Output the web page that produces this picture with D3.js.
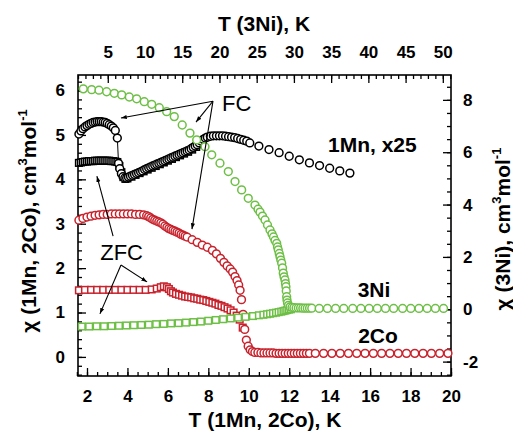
<!DOCTYPE html>
<html>
<head>
<meta charset="utf-8">
<script src="https://cdn.jsdelivr.net/npm/d3@7"></script>
<style>
  body { margin: 0; background: #fff; }
  svg { display: block; font-family: "Liberation Sans", Arial, sans-serif; }
</style>
</head>
<body>
<svg id="chart" width="513" height="433"></svg>
<script>
// ---- data ----
// 1Mn (x25), bottom T axis, left chi axis
var mnFcT = [1.60,1.70,1.80,1.90,2.00,2.10,2.20,2.30,2.40,2.50,2.60,2.70,2.80,2.90,3.00,3.10,3.20,3.30,3.40,3.50,
  3.56,3.62,3.70,3.78,3.87,3.96,
  4.05,4.15,4.25,4.35,4.45,4.55,4.65,4.75,4.85,4.95,5.05,5.15,5.25,5.35,5.45,5.55,5.65,5.75,5.85,5.95,
  6.05,6.15,6.25,6.35,6.45,6.55,6.65,6.75,6.85,6.95,7.05,7.15,7.25,7.35,7.45,7.55,7.65,7.75,7.85,7.95,
  8.10,8.25,8.40,8.55,8.70,8.85,9.00,9.15,9.30,9.45,9.60,9.75,9.90,10.05,
  10.5,11.0,11.5,12.0,12.5,13.0,13.5,14.0,14.5,15.0];
var mnFcChi = [5.02,5.09,5.14,5.18,5.21,5.24,5.26,5.28,5.29,5.30,5.30,5.30,5.29,5.28,5.26,5.23,5.20,5.16,5.10,4.93,
  4.36,4.24,4.13,4.06,4.03,4.03,
  4.05,4.07,4.09,4.11,4.13,4.15,4.17,4.19,4.22,4.24,4.26,4.28,4.30,4.32,4.34,4.36,4.38,4.40,4.42,4.44,
  4.46,4.48,4.50,4.52,4.54,4.56,4.58,4.60,4.62,4.64,4.66,4.69,4.72,4.75,4.78,4.82,4.86,4.90,4.93,4.95,
  4.97,4.98,4.98,4.98,4.98,4.97,4.96,4.95,4.94,4.92,4.90,4.88,4.86,4.82,
  4.75,4.67,4.60,4.52,4.44,4.37,4.31,4.25,4.19,4.14];
var mnZfcT = [1.6,1.7,1.8,1.9,2.0,2.1,2.2,2.3,2.4,2.5,2.6,2.7,2.8,2.9,3.0,3.1,3.2,3.3,3.4,3.5,
  3.6,3.7,3.8,3.9,
  4.0,4.2,4.4,4.6,4.8,5.0,5.2,5.4,5.6,5.8,6.0,6.2,6.4,6.6,6.8,7.0,7.2,7.4,7.6];
var mnZfcChi = [4.37,4.38,4.39,4.40,4.40,4.41,4.41,4.41,4.42,4.42,4.42,4.42,4.42,4.42,4.42,4.42,4.41,4.41,4.40,4.39,
  4.30,4.16,4.05,4.01,
  4.02,4.06,4.10,4.14,4.18,4.22,4.26,4.30,4.34,4.38,4.42,4.46,4.50,4.54,4.58,4.62,4.67,4.73,4.79];

// 2Co, bottom T axis, left chi axis
var coFcT = [1.6,1.8,2.0,2.2,2.4,2.6,2.8,3.0,3.2,3.4,3.6,3.8,4.0,4.2,4.4,4.6,4.8,4.95,
  5.05,5.15,5.25,5.35,5.45,5.55,5.65,5.75,5.85,5.95,6.05,6.15,6.25,6.35,6.45,6.55,6.65,6.75,6.85,6.95,
  7.2,7.45,7.7,7.95,8.2,8.4,8.6,8.77,8.93,9.08,9.2,9.32,9.42,9.5,9.57,9.64,
  9.72,9.8,9.88,9.97,10.07,10.18,
  10.3,10.45,10.6,10.75,10.9,11.05,11.2,11.35,11.5,11.65,11.8,11.95,12.1,12.25,12.4,12.55,12.7,12.85,13.0,
  13.29,13.7,14.11,14.52,14.93,15.34,15.75,16.16,16.57,16.98,17.39,17.8,18.21,18.62,19.03,19.44,19.85];
var coFcChi = [3.08,3.12,3.15,3.17,3.19,3.20,3.21,3.21,3.22,3.22,3.22,3.22,3.22,3.22,3.21,3.21,3.20,3.18,
  3.16,3.13,3.10,3.08,3.06,3.04,3.02,2.99,2.95,2.92,2.89,2.87,2.85,2.83,2.81,2.79,2.76,2.74,2.72,2.70,
  2.64,2.58,2.52,2.47,2.40,2.32,2.22,2.13,2.05,1.98,1.91,1.81,1.72,1.62,1.50,1.29,
  0.96,0.62,0.38,0.24,0.16,0.12,
  0.10,0.10,0.09,0.09,0.09,0.09,0.09,0.08,0.08,0.08,0.08,0.08,0.08,0.08,0.08,0.08,0.08,0.08,0.08,
  0.08,0.08,0.08,0.08,0.08,0.08,0.08,0.08,0.08,0.08,0.08,0.08,0.08,0.08,0.08,0.08,0.08];
var coZfcT = [1.6,1.9,2.2,2.5,2.8,3.1,3.4,3.7,4.0,4.3,4.6,4.9,5.2,
  5.45,5.65,5.8,5.95,6.05,6.15,6.25,
  6.4,6.55,6.7,6.85,7.0,7.15,7.3,7.45,7.6,7.75,7.9,8.05,8.2,8.35,8.5,8.65,8.8,8.95,9.1,9.25,9.4,9.55,9.7];
var coZfcChi = [1.50,1.51,1.51,1.51,1.51,1.51,1.51,1.51,1.51,1.51,1.51,1.51,1.52,
  1.54,1.57,1.59,1.57,1.53,1.48,1.45,
  1.42,1.40,1.38,1.36,1.35,1.34,1.32,1.31,1.29,1.28,1.26,1.24,1.22,1.20,1.17,1.15,1.12,1.09,1.05,1.00,0.93,0.84,0.66];

// 3Ni, top T axis, right chi axis
var niFcT = [1.71,2.84,3.82,4.85,5.88,6.87,7.89,8.88,9.9,10.9,
  11.92,12.91,13.93,15.0,16.04,16.94,18.06,18.96,20.07,21.19,
  22.09,22.98,23.87,24.77,25.18,25.45,25.78,26.12,26.45,26.79,
  27.06,27.26,27.46,27.69,27.8,27.9,28.03,28.13,28.24,28.36,
  28.47,28.57,28.67,28.8,28.87,28.93,28.97,29.03,29.07,29.14,
  29.27,29.48,29.74,30.0,30.3,30.6,30.9,31.2,31.5,31.8,
  32.1,32.4,33.4,34.5,35.6,36.7,37.9,39.0,40.1,41.2,
  42.3,43.4,44.6,45.7,46.8,47.9,49.0,50.1];
var niFcChi = [8.42,8.39,8.37,8.31,8.25,8.19,8.11,8.04,7.93,7.83,
  7.70,7.55,7.36,7.04,6.73,6.47,6.21,5.90,5.58,5.26,
  4.88,4.56,4.24,3.98,3.82,3.71,3.56,3.41,3.22,3.03,
  2.88,2.76,2.63,2.52,2.38,2.27,2.13,2.01,1.88,1.76,
  1.58,1.38,1.24,1.12,0.98,0.86,0.70,0.48,0.35,0.24,
  0.15,0.09,0.07,0.06,0.05,0.05,0.05,0.04,0.04,0.04,
  0.04,0.04,0.03,0.03,0.03,0.03,0.03,0.03,0.03,0.03,
  0.03,0.03,0.03,0.03,0.03,0.03,0.03,0.03];
var niZfcT = [1.5,2.5,3.5,4.5,5.5,6.5,7.5,8.5,9.5,10.5,11.5,12.5,13.5,14.5,15.5,16.5,17.5,18.5,19.5,20.5,
  21.5,22.5,23.5,24.5,25.3,25.9,26.4,26.8,27.2,27.6,27.95,28.3,28.6,28.85,29.1,29.35,29.6];
var niZfcChi = [-0.66,-0.66,-0.65,-0.65,-0.64,-0.63,-0.62,-0.61,-0.60,-0.59,-0.57,-0.56,-0.54,-0.53,-0.51,-0.49,-0.47,-0.44,-0.41,-0.38,
  -0.35,-0.32,-0.29,-0.26,-0.23,-0.21,-0.19,-0.17,-0.15,-0.13,-0.11,-0.09,-0.07,-0.05,-0.03,-0.01,0.00];

// tick labels
var bottomTicks = [2,4,6,8,10,12,14,16,18,20];
var topTicks = [5,10,15,20,25,30,35,40,45,50];
var leftTicks = [0,1,2,3,4,5,6];
var rightTicks = [-2,0,2,4,6,8];

// ---- layout ----
var svg = d3.select('#chart');
var pL = 78, pR = 451, pT = 75, pB = 376;
var green = '#6dbf45', red = '#c8222c';

var xB = d3.scaleLinear().domain([1.555, 20]).range([pL, pR]);
var xT = d3.scaleLinear().domain([1, 51.1]).range([pL, pR]);
var yL = d3.scaleLinear().domain([-0.43, 6.35]).range([pB, pT]);
var yR = d3.scaleLinear().domain([-2.55, 8.95]).range([pB, pT]);

function addAxis(gen, tr, fs) {
  var g = svg.append('g').attr('transform', tr).call(gen);
  g.attr('font-family', null).attr('font-size', null);
  g.select('.domain').remove();
  g.selectAll('.tick line').attr('stroke', '#000').attr('stroke-width', 1.3);
  g.selectAll('.tick text').attr('fill', '#000')
    .style('font-size', fs + 'px').style('font-weight', 'bold');
  return g;
}
var fmt = function(d) { return String(d); };

// minor ticks
addAxis(d3.axisBottom(xB).tickValues(d3.range(1.5, 20.01, 0.5)).tickSize(-4).tickFormat(''), 'translate(0,' + pB + ')', 17);
addAxis(d3.axisTop(xT).tickValues(d3.range(1, 51.01, 1)).tickSize(-4).tickFormat(''), 'translate(0,' + pT + ')', 17);
addAxis(d3.axisLeft(yL).tickValues(d3.range(-0.4, 6.31, 0.2)).tickSize(-4).tickFormat(''), 'translate(' + pL + ',0)', 17);
addAxis(d3.axisRight(yR).tickValues(d3.range(-2.5, 8.91, 0.5)).tickSize(-4).tickFormat(''), 'translate(' + pR + ',0)', 17);
// major ticks
addAxis(d3.axisBottom(xB).tickValues(bottomTicks).tickSize(-8).tickPadding(14).tickFormat(fmt), 'translate(0,' + pB + ')', 17);
addAxis(d3.axisTop(xT).tickValues(topTicks).tickSize(-8).tickPadding(17).tickFormat(fmt), 'translate(0,' + pT + ')', 17);
addAxis(d3.axisLeft(yL).tickValues(leftTicks).tickSize(-8).tickPadding(13).tickFormat(fmt), 'translate(' + pL + ',0)', 17);
addAxis(d3.axisRight(yR).tickValues(rightTicks).tickSize(-8).tickPadding(12).tickFormat(fmt), 'translate(' + pR + ',0)', 17);

svg.append('rect').attr('x', pL).attr('y', pT)
  .attr('width', pR - pL).attr('height', pB - pT)
  .attr('fill', 'none').attr('stroke', '#000').attr('stroke-width', 1.6);

// ---- markers ----
var R = 3.9, S = 6.6;
function circles(T, C, xs, ys, col) {
  svg.append('g').selectAll('circle').data(T).enter().append('circle')
    .attr('cx', function(d) { return xs(d); })
    .attr('cy', function(d, i) { return ys(C[i]); })
    .attr('r', R).attr('fill', '#fff').attr('stroke', col).attr('stroke-width', 1.5);
}
function squares(T, C, xs, ys, col) {
  svg.append('g').selectAll('rect').data(T).enter().append('rect')
    .attr('x', function(d) { return xs(d) - S / 2; })
    .attr('y', function(d, i) { return ys(C[i]) - S / 2; })
    .attr('width', S).attr('height', S)
    .attr('fill', '#fff').attr('stroke', col).attr('stroke-width', 1.5);
}

// thin line joining the 1Mn FC points at the jump
svg.append('path')
  .datum(d3.range(mnFcT.length).filter(function(i) { return mnFcT[i] < 4; }))
  .attr('d', d3.line().x(function(i) { return xB(mnFcT[i]); }).y(function(i) { return yL(mnFcChi[i]); }))
  .attr('fill', 'none').attr('stroke', '#000').attr('stroke-width', 1);

squares(mnZfcT, mnZfcChi, xB, yL, '#000');
circles(mnFcT, mnFcChi, xB, yL, '#000');
squares(coZfcT, coZfcChi, xB, yL, red);
circles(coFcT, coFcChi, xB, yL, red);
squares(niZfcT, niZfcChi, xT, yR, green);
circles(niFcT, niFcChi, xT, yR, green);

// ---- annotations (bottom-T / left-chi units) ----
svg.append('defs').append('marker').attr('id', 'arr')
  .attr('viewBox', '0 -3 7 6').attr('refX', 7).attr('refY', 0)
  .attr('markerWidth', 6).attr('markerHeight', 5).attr('markerUnits', 'userSpaceOnUse')
  .attr('orient', 'auto')
  .append('path').attr('d', 'M0,-2.5L7,0L0,2.5Z').attr('fill', '#000');

var arrows = [
  [[8.23, 5.76], [3.68, 5.38]],
  [[8.23, 5.76], [7.39, 5.29]],
  [[8.23, 5.76], [7.19, 2.88]],
  [[3.29, 2.72], [2.49, 4.07]],
  [[3.68, 2.07], [4.97, 1.69]],
  [[3.68, 2.07], [2.64, 0.97]]
];
svg.append('g').selectAll('line').data(arrows).enter().append('line')
  .attr('x1', function(d) { return xB(d[0][0]); }).attr('y1', function(d) { return yL(d[0][1]); })
  .attr('x2', function(d) { return xB(d[1][0]); }).attr('y2', function(d) { return yL(d[1][1]); })
  .attr('stroke', '#000').attr('stroke-width', 1.1).attr('marker-end', 'url(#arr)');

svg.append('text').attr('x', xB(8.68)).attr('y', yL(5.54))
  .style('font-size', '22px').text('FC');
svg.append('text').attr('x', xB(3.71)).attr('y', yL(2.18)).attr('text-anchor', 'middle')
  .style('font-size', '22px').text('ZFC');

function boldText(x, y, anchor, s) {
  return svg.append('text').attr('x', x).attr('y', y).attr('text-anchor', anchor)
    .style('font-size', '21px').style('font-weight', 'bold').text(s);
}
boldText(328, 152, 'start', '1Mn, x25');
boldText(374, 297, 'middle', '3Ni');
boldText(378, 343, 'middle', '2Co');

// axis titles
boldText(264, 31, 'middle', 'T (3Ni), K');
boldText(265, 427, 'middle', 'T (1Mn, 2Co), K');

function yTitle(x, y, main) {
  var t = svg.append('text').attr('transform', 'translate(' + x + ',' + y + ') rotate(-90)')
    .attr('text-anchor', 'middle').style('font-size', '21px').style('font-weight', 'bold');
  t.append('tspan').text(main);
  t.append('tspan').attr('dy', -9).style('font-size', '13px').text('3');
  t.append('tspan').attr('dy', 9).text('mol');
  t.append('tspan').attr('dy', -9).style('font-size', '13px').text('-1');
}
yTitle(36, 221, '\u03c7 (1Mn, 2Co), cm');
yTitle(510, 229, '\u03c7 (3Ni), cm');
</script>
</body>
</html>
